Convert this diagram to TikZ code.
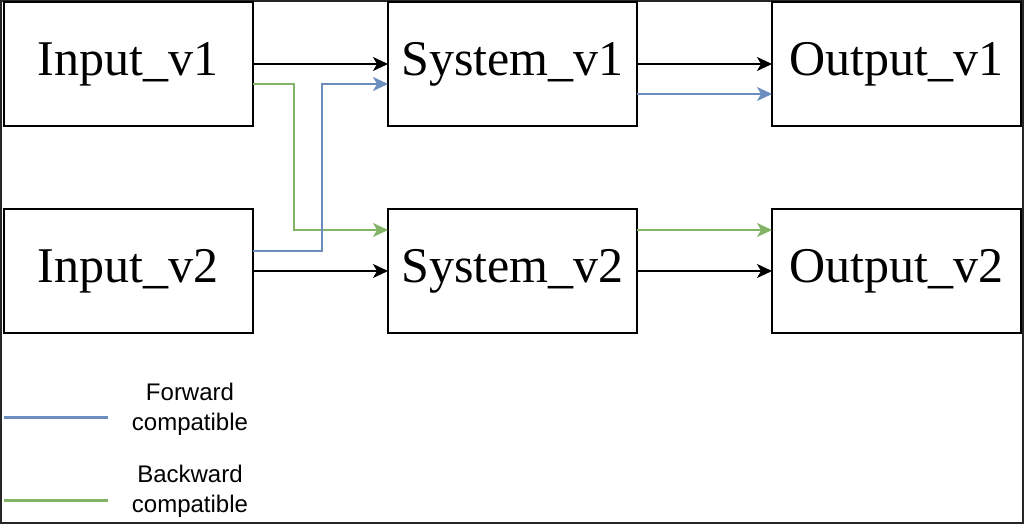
\documentclass[tikz,border=0pt]{standalone}
\usepackage{fontspec}
\setmainfont{Liberation Serif}
\setsansfont{Liberation Sans}
\usetikzlibrary{arrows.meta}
\definecolor{fwdblue}{HTML}{6C8EBF}
\definecolor{bwdgreen}{HTML}{82B366}
\begin{document}
\begin{tikzpicture}[x=1pt,y=-1pt,
  box/.style={draw=black,line width=2pt,minimum width=249pt,minimum height=124pt,inner sep=0pt,outer sep=0pt,font=\fontsize{50}{60}\selectfont},
  conn/.style={line width=2pt,-{Stealth[length=15pt,width=14pt,inset=4pt]}},
  legtext/.style={font=\sffamily\fontsize{24}{30}\selectfont,align=center,inner sep=0pt},
  legline/.style={line width=3pt}]
\useasboundingbox (0,0) rectangle (1024,524);
\fill[white] (0,0) rectangle (1024,524);
\draw[line width=2pt,black!85] (1,1) rectangle (1023,523);
\node[box] (in1) at (128,64) {Input\_v1};
\node[box] (in2) at (128,271) {Input\_v2};
\node[box] (sys1) at (512.5,64) {System\_v1};
\node[box] (sys2) at (512.5,271) {System\_v2};
\node[box] (out1) at (896.5,64) {Output\_v1};
\node[box] (out2) at (896.5,271) {Output\_v2};
% black
\draw[conn,black] (in1.east) -- (sys1.west);
\draw[conn,black] (in2.east) -- (sys2.west);
\draw[conn,black] (sys1.east) -- (out1.west);
\draw[conn,black] (sys2.east) -- (out2.west);
% green (backward compatible)
\draw[conn,bwdgreen] (in1.east |- 0,84) -- (294,84) -- (294,230) -- (sys2.west |- 0,230);
\draw[conn,bwdgreen] (sys2.east |- 0,230) -- (out2.west |- 0,230);
% blue (forward compatible)
\draw[conn,fwdblue] (in2.east |- 0,251) -- (322,251) -- (322,84) -- (sys1.west |- 0,84);
\draw[conn,fwdblue] (sys1.east |- 0,94) -- (out1.west |- 0,94);
% legend
\coordinate (lb1) at (4,417); \coordinate (lb2) at (108,417);
\coordinate (lg1) at (4,500); \coordinate (lg2) at (108,500);
\draw[legline,fwdblue] (lb1) -- (lb2);
\draw[legline,bwdgreen] (lg1) -- (lg2);
\node[legtext] (fwd) at (190,409) {Forward\\compatible};
\node[legtext] (bwd) at (190,491) {Backward\\compatible};
\end{tikzpicture}
\end{document}
